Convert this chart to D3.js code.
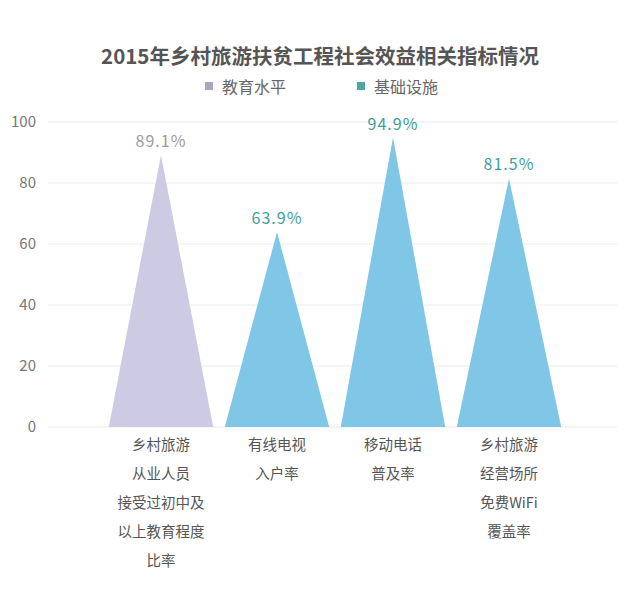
<!DOCTYPE html>
<html><head><meta charset="utf-8">
<script src="https://cdn.jsdelivr.net/npm/d3@7"></script>
<style>body{margin:0;background:#fff;}text{font-family:"Noto Sans CJK SC","Noto Sans",sans-serif;}</style>
</head><body><svg id="c" width="640" height="599"></svg>
<script>
const categories = [
  ["乡村旅游","从业人员","接受过初中及","以上教育程度","比率"],
  ["有线电视","入户率"],
  ["移动电话","普及率"],
  ["乡村旅游","经营场所","免费WiFi","覆盖率"]
];
const values = [89.1, 63.9, 94.9, 81.5];
const groups = ["教育水平","基础设施","基础设施","基础设施"];
const seriesNames = ["教育水平","基础设施"];
const yTicks = [0,20,40,60,80,100];

const svg = d3.select("#c");
const fill = {"教育水平":"#cdcae4","基础设施":"#7fc6e7"};
const labelCol = {"教育水平":"#9b9b9b","基础设施":"#3f9f9b"};
const legendCol = {"教育水平":"#aaa6bf","基础设施":"#4aa7a5"};

const y = d3.scaleLinear().domain([0,100]).range([427,122]);
const x = d3.scaleBand().domain(d3.range(values.length)).range([103,567]).paddingInner(0.1).paddingOuter(0.05);

svg.append("text").attr("x",320).attr("y",64).attr("text-anchor","middle")
  .attr("font-size",20.5).attr("font-weight","bold").attr("fill","#555").text("2015年乡村旅游扶贫工程社会效益相关指标情况");

const lx = [205, 357];
seriesNames.forEach((s,i)=>{
  svg.append("rect").attr("x",lx[i]).attr("y",82).attr("width",8).attr("height",8).attr("fill",legendCol[s]);
  svg.append("text").attr("x",lx[i]+17).attr("y",92.5).attr("font-size",16).attr("fill","#666").text(s);
});

const g = svg.append("g");
g.selectAll("line.grid").data(yTicks).enter().append("line")
  .attr("x1",48).attr("x2",617).attr("y1",d=>y(d)).attr("y2",d=>y(d))
  .attr("stroke","#ebebeb").attr("stroke-width",1);
g.selectAll("text.yt").data(yTicks).enter().append("text")
  .attr("x",36).attr("y",d=>y(d)+5).attr("text-anchor","end").attr("font-size",15).attr("fill","#777").text(d=>d);

values.forEach((v,i)=>{
  const x0 = x(i), x1 = x(i)+x.bandwidth(), xm = x(i)+x.bandwidth()/2;
  g.append("path").attr("d",`M${x0},${y(0)}L${xm},${y(v)}L${x1},${y(0)}Z`).attr("fill",fill[groups[i]]);
  g.append("text").attr("x",xm).attr("y",y(v)-8).attr("text-anchor","middle")
    .attr("font-size",16).attr("letter-spacing",1).attr("fill",labelCol[groups[i]]).text(v.toFixed(1)+"%");
  categories[i].forEach((line,j)=>{
    g.append("text").attr("x",xm).attr("y",449.5+j*29).attr("text-anchor","middle")
      .attr("font-size",14.5).attr("fill","#555").text(line);
  });
});
</script></body></html>
